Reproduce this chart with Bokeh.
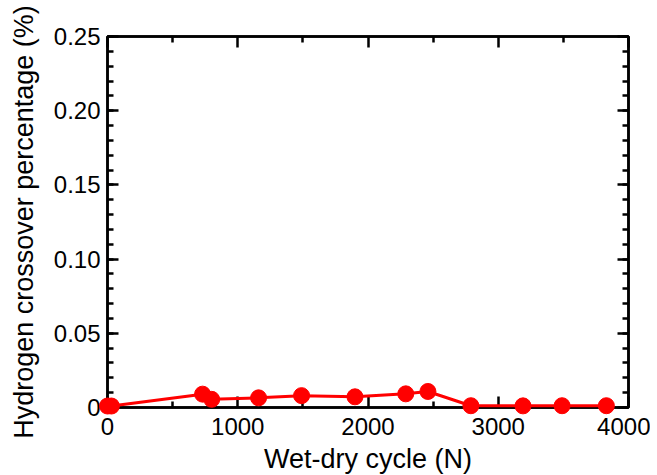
from bokeh.plotting import figure
from bokeh.models import LinearAxis, Range1d, FixedTicker, CustomJSTickFormatter
from bokeh.embed import file_html
from bokeh.resources import INLINE

# Data
cycles = [0, 30, 730, 800, 1160, 1490, 1900, 2290, 2460, 2790, 3190, 3490, 3830]
crossover = [0.001, 0.001, 0.0090, 0.0055, 0.0065, 0.0080, 0.0072, 0.0092, 0.0108, 0.0012, 0.0011, 0.0012, 0.0012]

x_ticks = [0, 1000, 2000, 3000, 4000]
x_minor = [500, 1500, 2500, 3500]
y_ticks = [0, 0.05, 0.10, 0.15, 0.20, 0.25]
y_minor = [i * 0.01 for i in range(26)]
y_tick_labels = {0: "0", 0.05: "0.05", 0.1: "0.10", 0.15: "0.15", 0.2: "0.20", 0.25: "0.25"}

FONT = "Liberation Sans"

p = figure(frame_width=521, frame_height=371, output_backend="svg", toolbar_location=None,
           x_range=Range1d(0, 4000), y_range=Range1d(0, 0.25),
           min_border_left=107, min_border_right=22, min_border_top=36, min_border_bottom=62)
p.grid.visible = False
p.outline_line_color = "black"
p.outline_line_width = 2.5
p.background_fill_color = "white"
p.border_fill_color = "white"

ln = p.line(cycles, crossover, line_color="red", line_width=3)
sc = p.scatter(cycles, crossover, size=16, fill_color="red", line_color="red")
ln.level = "overlay"
sc.level = "overlay"

def style(ax, labels=True):
    ax.axis_line_color = "black"
    ax.axis_line_width = 2.5
    ax.major_tick_line_color = "black"
    ax.major_tick_line_width = 2.5
    ax.minor_tick_line_color = "black"
    ax.minor_tick_line_width = 2.5
    ax.major_tick_in = 11
    ax.major_tick_out = 0
    ax.minor_tick_in = 6
    ax.minor_tick_out = 0
    if labels:
        ax.major_label_text_font = FONT
        ax.major_label_text_font_size = "24px"
        ax.major_label_text_color = "black"
        ax.axis_label_text_font = FONT
        ax.axis_label_text_font_size = "27px"
        ax.axis_label_text_font_style = "normal"
        ax.axis_label_text_color = "black"
    else:
        ax.formatter = CustomJSTickFormatter(code="return ''")
        ax.major_label_standoff = 0

p.xaxis.ticker = FixedTicker(ticks=x_ticks, minor_ticks=x_minor)
p.yaxis.ticker = FixedTicker(ticks=y_ticks, minor_ticks=y_minor)
p.xaxis.axis_label = "Wet-dry cycle (N)"
p.yaxis.axis_label = "Hydrogen crossover percentage (%)"
p.yaxis.major_label_overrides = y_tick_labels
p.xaxis.major_label_standoff = 10
p.yaxis.major_label_standoff = 7
p.xaxis.axis_label_standoff = 6
p.yaxis.axis_label_standoff = 12
style(p.xaxis[0])
style(p.yaxis[0])

top = LinearAxis(ticker=FixedTicker(ticks=x_ticks, minor_ticks=x_minor))
right = LinearAxis(ticker=FixedTicker(ticks=y_ticks, minor_ticks=y_minor))
style(top, labels=False)
style(right, labels=False)
p.add_layout(top, "above")
p.add_layout(right, "right")

open("out.html", "w").write(file_html(p, INLINE))
